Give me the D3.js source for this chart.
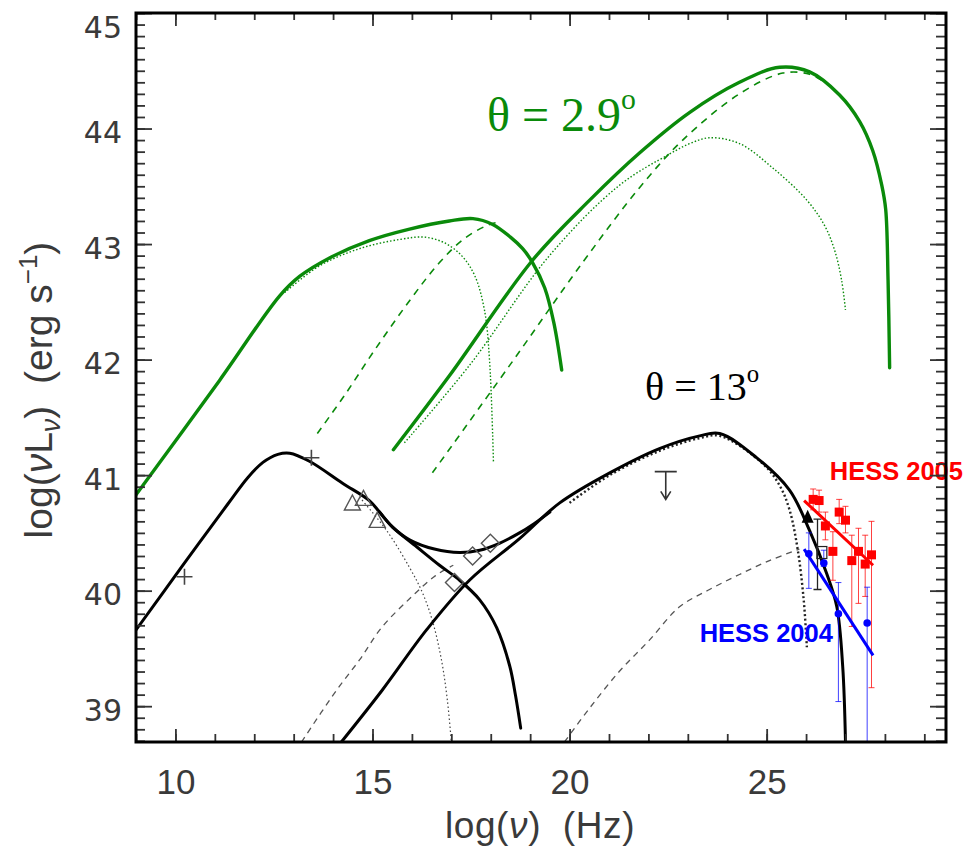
<!DOCTYPE html>
<html>
<head>
<meta charset="utf-8">
<script src="https://cdn.jsdelivr.net/npm/d3@7"></script>
<style>
  html, body { margin: 0; padding: 0; background: #fff; }
  svg { display: block; }
</style>
</head>
<body>
<svg id="chart" width="976" height="849"></svg>
<script>
// ---- data: [log(nu), log(nu L_nu)] ----
const xTicksMajor = [10, 15, 20, 25];
const yTicksMajor = [39, 40, 41, 42, 43, 44, 45];

// theta = 2.9 deg model
const greenSyncTotal = [[9.0,40.83],[11.12,41.82],[12.64,42.55],[13.15,42.72],[13.91,42.88],[14.92,43.03],[15.94,43.13],[16.95,43.20],[17.55,43.22],[18.05,43.17],[18.50,43.06],[18.81,42.96],[19.06,42.84],[19.37,42.62],[19.60,42.32],[19.80,41.91]];
const greenSyncDotted = [[12.77,42.58],[13.65,42.81],[14.67,42.96],[15.69,43.04],[16.32,43.06],[16.83,43.01],[17.26,42.90],[17.59,42.73],[17.84,42.43],[17.97,41.99],[18.07,41.10]];
const greenSyncDashed = [[13.60,41.36],[14.29,41.69],[15.05,42.08],[15.94,42.51],[16.70,42.84],[17.34,43.05],[17.97,43.17],[18.22,43.19]];
const greenICTotal = [[15.53,41.22],[16.95,41.86],[19.06,42.86],[20.51,43.38],[21.78,43.79],[23.05,44.14],[24.31,44.40],[25.33,44.53],[26.09,44.49],[26.85,44.29],[27.36,44.06],[27.69,43.81],[27.92,43.51],[28.02,43.30],[28.08,42.69],[28.12,41.93]];
const greenICDotted = [[15.81,41.28],[17.46,41.95],[19.49,42.90],[21.27,43.51],[22.54,43.78],[23.05,43.87],[23.55,43.92],[24.31,43.87],[25.15,43.66],[26.02,43.38],[26.47,43.16],[26.73,42.94],[26.90,42.69],[27.00,42.43]];
const greenICDashed = [[16.52,41.02],[18.48,41.95],[20.33,42.84],[21.78,43.49],[22.87,43.90],[24.31,44.30],[25.41,44.48],[26.09,44.47],[26.52,44.39]];

// theta = 13 deg model
const blackSync = [[9.0,39.66],[10.19,40.22],[11.33,40.75],[11.84,40.98],[12.22,41.11],[12.60,41.18],[12.90,41.19],[13.40,41.12],[14.24,40.93],[14.92,40.78],[15.18,40.68],[15.51,40.55],[16.12,40.38],[16.70,40.22],[17.21,40.09],[17.72,39.92],[18.15,39.68],[18.48,39.35],[18.63,39.09],[18.76,38.81]];
const blackSum = [[15.18,40.68],[15.51,40.55],[15.94,40.44],[16.57,40.36],[17.21,40.33],[17.72,40.35],[18.22,40.41],[18.73,40.50],[19.10,40.58],[19.50,40.68]];
const blackSyncDotted = [[14.67,40.81],[15.36,40.52],[15.94,40.20],[16.27,39.98],[16.52,39.74],[16.75,39.40],[16.90,39.05],[17.00,38.69]];
const blackSyncDashed = [[13.20,38.69],[14.09,39.14],[14.67,39.40],[15.23,39.68],[15.94,39.93],[16.60,40.13],[17.05,40.22]];
const blackIC = [[14.21,38.69],[15.25,39.14],[16.37,39.66],[17.46,40.09],[18.73,40.45],[19.75,40.76],[21.02,41.02],[22.28,41.23],[23.30,41.34],[23.81,41.36],[24.75,41.15],[25.58,40.87],[26.09,40.52],[26.52,40.15],[26.78,39.86],[26.93,39.34],[27.00,38.69]];
const blackICDotted = [[20.00,40.76],[21.02,41.00],[22.28,41.21],[23.30,41.32],[23.81,41.34],[24.90,41.10],[25.33,40.91],[25.58,40.70],[25.79,40.35],[25.94,39.92],[26.02,39.51]];
const blackICDashed = [[19.87,38.69],[20.50,38.98],[21.26,39.30],[22.02,39.57],[22.79,39.86],[23.55,40.01],[24.31,40.14],[25.07,40.26],[25.83,40.36]];

// observations
const radioCrosses = [[10.23,40.12],[13.45,41.15]];
const opticalTriangles = [[14.49,40.75],[14.77,40.79],[15.12,40.60]];
const xrayDiamonds = [[17.08,40.07],[17.54,40.30],[17.99,40.41]];
const upperLimit = [22.44, 41.03, 40.79];
const tevTriangle = [26.04, 40.63];
const tevErrorBar = [26.29, 40.62, 40.01];
const tevSquare = [26.40, 40.33];
// [log nu, value, upper, lower]
const hess2005 = [[26.18,40.79,40.88,40.70],[26.33,40.78,40.87,40.68],[26.49,40.56,40.68,40.44],[26.68,40.34,40.51,40.09],[26.84,40.68,40.79,40.58],[27.00,40.61,40.73,40.50],[27.16,40.26,40.48,39.69],[27.33,40.34,40.54,39.89],[27.50,40.23,40.48,39.95],[27.66,40.31,40.60,39.16]];
const hess2004 = [[26.07,40.32,40.50,40.02],[26.45,40.24,40.35,40.21],[26.82,39.80,40.07,39.04],[27.55,39.72,40.03,38.69]];
const hess2005Fit = [[25.95,40.78],[27.70,40.22]];
const hess2004Fit = [[25.95,40.36],[27.70,39.44]];

// ---- layout ----
const svg = d3.select("#chart");
const plotLeft = 136, plotRight = 946, plotTop = 13, plotBottom = 742;
const x = d3.scaleLinear().domain([9, 29.55]).range([plotLeft, plotRight]);
const y = d3.scaleLinear().domain([38.69, 45]).range([plotBottom, plotTop]);

const GREEN = "#0a8a0a";

svg.append("defs").append("clipPath").attr("id", "plot")
  .append("rect").attr("x", plotLeft).attr("y", plotTop)
  .attr("width", plotRight - plotLeft).attr("height", plotBottom - plotTop);

const plot = svg.append("g").attr("clip-path", "url(#plot)");
const line = d3.line().x(d => x(d[0])).y(d => y(d[1])).curve(d3.curveCatmullRom.alpha(0.5));

function curve(data, color, width, dash) {
  plot.append("path").datum(data).attr("d", line)
    .attr("fill", "none").attr("stroke", color).attr("stroke-width", width)
    .attr("stroke-dasharray", dash || null)
    .attr("stroke-linejoin", "round").attr("stroke-linecap", dash ? "butt" : "round");
}

// component curves
curve(greenSyncDashed, GREEN, 1.6, "7,6");
curve(greenSyncDotted, GREEN, 1.4, "1.5,2");
curve(greenICDashed, GREEN, 1.6, "7,6");
curve(greenICDotted, GREEN, 1.4, "1.5,2");
curve(blackSyncDashed, "#555", 1.3, "6,5");
curve(blackSyncDotted, "#444", 1.2, "1.5,2.5");
curve(blackICDashed, "#555", 1.3, "6,5");
curve(blackICDotted, "#222", 2.4, "2,2.5");

// total curves
curve(greenSyncTotal, GREEN, 3.4);
curve(greenICTotal, GREEN, 3.4);
curve(blackSync, "#000", 3);
curve(blackSum, "#000", 3);
curve(blackIC, "#000", 3);

// ---- observations ----
const obs = svg.append("g");
radioCrosses.forEach(d => {
  const cx = x(d[0]), cy = y(d[1]);
  obs.append("path").attr("d", `M${cx-8},${cy}H${cx+8}M${cx},${cy-8}V${cy+8}`)
    .attr("stroke", "#444").attr("stroke-width", 1.6).attr("fill", "none");
});
opticalTriangles.forEach(d => {
  const cx = x(d[0]), cy = y(d[1]);
  obs.append("path").attr("d", `M${cx},${cy-9}L${cx+8},${cy+6}L${cx-8},${cy+6}Z`)
    .attr("stroke", "#555").attr("stroke-width", 1.4).attr("fill", "none");
});
xrayDiamonds.forEach(d => {
  const cx = x(d[0]), cy = y(d[1]);
  obs.append("path").attr("d", `M${cx},${cy-9}L${cx+9},${cy}L${cx},${cy+9}L${cx-9},${cy}Z`)
    .attr("stroke", "#555").attr("stroke-width", 1.4).attr("fill", "none");
});
{
  const ux = x(upperLimit[0]), uy = y(upperLimit[1]), tip = y(upperLimit[2]);
  obs.append("path").attr("d", `M${ux-11},${uy}H${ux+11}M${ux},${uy}V${tip}M${ux-5},${tip-8}L${ux},${tip}L${ux+5},${tip-8}`)
    .attr("stroke", "#333").attr("stroke-width", 1.6).attr("fill", "none");
}

// HESS error bars and points
function errorBars(data, color) {
  data.forEach(d => {
    const cx = x(d[0]);
    obs.append("path").attr("d", `M${cx},${y(d[2])}V${y(d[3])}M${cx-3},${y(d[2])}H${cx+3}M${cx-3},${y(d[3])}H${cx+3}`)
      .attr("stroke", color).attr("stroke-width", 1).attr("fill", "none").attr("opacity", 0.75);
  });
}
errorBars(hess2005, "#f00");
errorBars(hess2004, "#00f");

{
  const ex = x(tevErrorBar[0]);
  obs.append("path").attr("d", `M${ex},${y(tevErrorBar[1])}V${y(tevErrorBar[2])}M${ex-4},${y(tevErrorBar[1])}H${ex+4}M${ex-4},${y(tevErrorBar[2])}H${ex+4}`)
    .attr("stroke", "#222").attr("stroke-width", 1.3).attr("fill", "none");
  obs.append("rect").attr("x", x(tevSquare[0]) - 5).attr("y", y(tevSquare[1]) - 6)
    .attr("width", 10).attr("height", 12).attr("fill", "none").attr("stroke", "#222").attr("stroke-width", 1.2);
  const tx = x(tevTriangle[0]), ty = y(tevTriangle[1]);
  obs.append("path").attr("d", `M${tx},${ty-8}L${tx+6},${ty+5}L${tx-6},${ty+5}Z`).attr("fill", "#000");
}

const fitLine = d3.line().x(d => x(d[0])).y(d => y(d[1]));
obs.append("path").datum(hess2005Fit).attr("d", fitLine).attr("stroke", "#f00").attr("stroke-width", 3).attr("fill", "none");
obs.append("path").datum(hess2004Fit).attr("d", fitLine).attr("stroke", "#00f").attr("stroke-width", 3).attr("fill", "none");

hess2005.forEach(d => {
  obs.append("rect").attr("x", x(d[0]) - 4.5).attr("y", y(d[1]) - 4.5).attr("width", 9).attr("height", 9).attr("fill", "#f00");
});
hess2004.forEach(d => {
  obs.append("circle").attr("cx", x(d[0])).attr("cy", y(d[1])).attr("r", 3.8).attr("fill", "#00f");
});

// ---- labels ----
svg.append("text").attr("x", x(26.6)).attr("y", 480)
  .attr("font-family", "Liberation Sans, Arial, sans-serif").attr("font-weight", "bold")
  .attr("font-size", 25.5).attr("fill", "#f00").text("HESS 2005");
svg.append("text").attr("x", x(23.3)).attr("y", 642)
  .attr("font-family", "Liberation Sans, Arial, sans-serif").attr("font-weight", "bold")
  .attr("font-size", 25.5).attr("fill", "#00f").text("HESS 2004");

function thetaLabel(px, py, value, color, size) {
  const t = svg.append("text").attr("x", px).attr("y", py)
    .attr("font-family", "Liberation Serif, Times New Roman, serif")
    .attr("font-size", size).attr("fill", color);
  t.append("tspan").text("θ = " + value);
  t.append("tspan").attr("font-size", size * 0.62).attr("dy", -size * 0.46).text("o");
}
thetaLabel(487, 131, "2.9", GREEN, 48);
thetaLabel(645, 400, "13", "#000", 40);

// ---- axes ----
const axisG = svg.append("g");
const tickColor = "#333";

function ticks(axisGen, transform) {
  const g = axisG.append("g").attr("transform", transform).call(axisGen);
  g.select(".domain").remove();
  g.selectAll(".tick line").attr("stroke", tickColor).attr("stroke-width", 1.8);
  return g;
}
const xMinor = d3.range(9, 30, 1);
const yMinor = d3.range(387, 451, 1).map(v => v / 10);

ticks(d3.axisBottom(x).tickValues(xMinor).tickSize(-8).tickFormat(""), `translate(0,${plotBottom})`);
ticks(d3.axisTop(x).tickValues(xMinor).tickSize(-7).tickFormat(""), `translate(0,${plotTop})`);
ticks(d3.axisLeft(y).tickValues(yMinor).tickSize(-9).tickFormat(""), `translate(${plotLeft},0)`);
ticks(d3.axisRight(y).tickValues(yMinor).tickSize(-10).tickFormat(""), `translate(${plotRight},0)`);

const xb = ticks(d3.axisBottom(x).tickValues(xTicksMajor).tickSize(-13).tickPadding(27).tickFormat(d3.format("d")), `translate(0,${plotBottom})`);
xb.selectAll("text").attr("font-family", "Liberation Sans, Arial, sans-serif").attr("font-size", 35).attr("fill", "#3a3a3a");
ticks(d3.axisTop(x).tickValues(xTicksMajor).tickSize(-13).tickFormat(""), `translate(0,${plotTop})`);
const yl = ticks(d3.axisLeft(y).tickValues(yTicksMajor).tickSize(-16).tickPadding(14).tickFormat(d3.format("d")), `translate(${plotLeft},0)`);
yl.selectAll("text").attr("font-family", "DejaVu Sans, sans-serif").attr("font-size", 30).attr("fill", "#3a3a3a")
  .attr("dy", d => d === 45 ? "0.8em" : "0.47em");
ticks(d3.axisRight(y).tickValues(yTicksMajor).tickSize(-16).tickFormat(""), `translate(${plotRight},0)`);

// frame
svg.append("rect").attr("x", plotLeft).attr("y", plotTop).attr("width", plotRight - plotLeft).attr("height", plotBottom - plotTop)
  .attr("fill", "none").attr("stroke", "#000").attr("stroke-width", 3);

// axis titles
const xt = svg.append("text").attr("x", 540).attr("y", 838).attr("text-anchor", "middle")
  .attr("font-family", "Liberation Sans, Arial, sans-serif").attr("font-size", 37).attr("letter-spacing", 0.6)
  .attr("fill", "#3a3a3a").attr("xml:space", "preserve");
xt.append("tspan").text("log(");
xt.append("tspan").attr("font-style", "italic").text("ν");
xt.append("tspan").text(")  (Hz)");

const yt = svg.append("text").attr("transform", "translate(52,390) rotate(-90)").attr("text-anchor", "middle")
  .attr("font-family", "Liberation Sans, Arial, sans-serif").attr("font-size", 39).attr("fill", "#3a3a3a")
  .attr("xml:space", "preserve");
yt.append("tspan").text("log(");
yt.append("tspan").attr("font-style", "italic").text("ν");
yt.append("tspan").text("L");
yt.append("tspan").attr("font-style", "italic").attr("font-size", 27).attr("dy", 8).text("ν");
yt.append("tspan").attr("dy", -8).text(")  (erg s");
yt.append("tspan").attr("font-size", 26).attr("dy", -15).text("−1");
yt.append("tspan").attr("dy", 15).text(")");
</script>
</body>
</html>
